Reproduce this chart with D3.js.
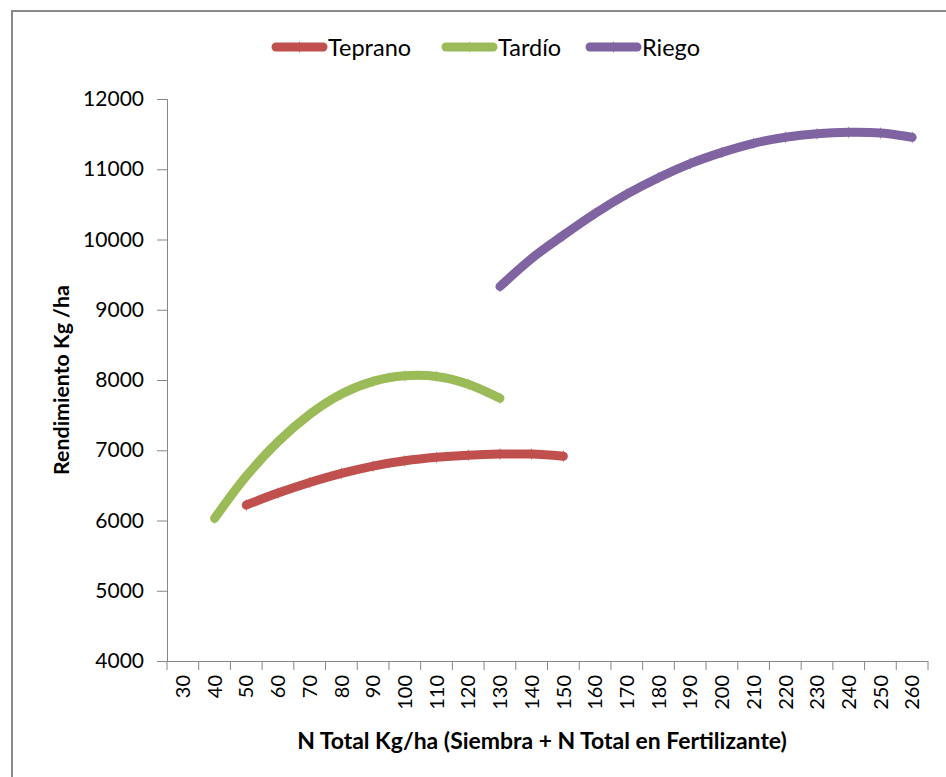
<!DOCTYPE html>
<html>
<head>
<meta charset="utf-8">
<script src="https://cdn.jsdelivr.net/npm/d3@7"></script>
<style>
  html, body { margin: 0; padding: 0; background: #fff; }
  svg { display: block; }
  text { font-family: Lato, "Open Sans", "Liberation Sans", sans-serif; fill: #000; }
</style>
</head>
<body>
<svg id="chart" width="946" height="777"></svg>
<script>
// ---- data ----
const categories = [30,40,50,60,70,80,90,100,110,120,130,140,150,160,170,180,190,200,210,220,230,240,250,260];
const yTicks = [4000,5000,6000,7000,8000,9000,10000,11000,12000];

const tepranoX = [50,60,70,80,90,100,110,120,130,140,150];
const tepranoY = [6220,6390,6540,6670,6775,6850,6900,6930,6945,6945,6915];

const tardioX = [40,50,60,70,80,90,100,110,120,130];
const tardioY = [6030,6630,7120,7510,7800,7980,8060,8050,7940,7740];

const riegoX = [130,140,150,160,170,180,190,200,210,220,230,240,250,260];
const riegoY = [9330,9730,10060,10370,10645,10880,11080,11240,11370,11455,11505,11525,11515,11455];

const seriesNames = ["Teprano","Tardío","Riego"];
const seriesColors = ["#C0504D","#9BBB59","#8064A2"];

const series = [
  {name: seriesNames[0], color: seriesColors[0], pts: tepranoX.map((x,i)=>({x, y: tepranoY[i]}))},
  {name: seriesNames[1], color: seriesColors[1], pts: tardioX.map((x,i)=>({x, y: tardioY[i]}))},
  {name: seriesNames[2], color: seriesColors[2], pts: riegoX.map((x,i)=>({x, y: riegoY[i]}))}
];

// ---- layout ----
const svg = d3.select("#chart");
const plot = {left: 167, right: 928, top: 99, bottom: 661};

const x = d3.scaleBand().domain(categories).range([plot.left, plot.right]).paddingInner(0).paddingOuter(0);
const y = d3.scaleLinear().domain([4000,12000]).range([plot.bottom, plot.top]);
const cx = v => x(v) + x.bandwidth()/2;

// outer frame
svg.append("path")
  .attr("d", `M12,777 L12,11 L946,11`)
  .attr("fill","none").attr("stroke","#898989").attr("stroke-width",2);

// fit text helper
function fitText(sel, target) {
  const w = sel.node().getComputedTextLength();
  const fs = parseFloat(sel.attr("font-size"));
  sel.attr("font-size", (fs * target / w).toFixed(2));
}

// y axis
const yAxis = d3.axisLeft(y).tickValues(yTicks).tickSize(10).tickPadding(13).tickFormat(d3.format("d"));
const gy = svg.append("g").attr("transform",`translate(${plot.left},0)`).call(yAxis);
gy.select(".domain").attr("stroke","#868686");
gy.selectAll(".tick line").attr("stroke","#868686");
gy.selectAll(".tick text").attr("font-size",21).attr("fill","#000").style("font-family","Lato, 'Open Sans', sans-serif");

// x axis
const xAxis = d3.axisBottom(x).tickSize(0).tickFormat(d=>d);
const gx = svg.append("g").attr("transform",`translate(0,${plot.bottom})`).call(xAxis);
gx.select(".domain").attr("stroke","#868686").attr("d", `M${plot.left-8},0.5H${plot.right}`);
// boundary ticks
gx.selectAll(".bt").data(d3.range(categories.length+1)).enter().append("line")
  .attr("class","bt")
  .attr("x1", i => plot.left + i*x.bandwidth()).attr("x2", i => plot.left + i*x.bandwidth())
  .attr("y1", 0).attr("y2", 9).attr("stroke","#868686");
gx.selectAll(".tick text")
  .attr("font-size",20).attr("fill","#000")
  .attr("transform","rotate(-90)")
  .attr("text-anchor","end")
  .attr("x",-14).attr("y",0).attr("dy","0.36em");

// axis titles
const yt = svg.append("text")
  .attr("transform",`translate(69,${(plot.top+plot.bottom)/2}) rotate(-90)`)
  .attr("text-anchor","middle").attr("font-weight","bold").attr("font-size",20)
  .text("Rendimiento Kg /ha");
fitText(yt, 190);

const xt = svg.append("text")
  .attr("x", 542).attr("y", 749)
  .attr("text-anchor","middle").attr("font-weight","bold").attr("font-size",20)
  .text("N Total Kg/ha (Siembra + N Total en Fertilizante)");
fitText(xt, 490);

// lines
const line = d3.line().x(d=>cx(d.x)).y(d=>y(d.y)).curve(d3.curveCardinal.tension(0));
const diamond = d3.symbol().type(d3.symbolDiamond).size(30);

series.forEach(s => {
  svg.append("path").datum(s.pts)
    .attr("d", line).attr("fill","none")
    .attr("stroke", s.color).attr("stroke-width", 9)
    .attr("stroke-linecap","round").attr("stroke-linejoin","round");
  svg.selectAll(null).data(s.pts).enter().append("path")
    .attr("d", diamond)
    .attr("transform", d => `translate(${cx(d.x)},${y(d.y)}) scale(0.6,1.2)`)
    .attr("fill", s.color);
});

// legend
const legendItems = [
  {x1: 276, x2: 323, tx: 328},
  {x1: 446, x2: 493, tx: 498},
  {x1: 590, x2: 637, tx: 642}
];
series.forEach((s,i) => {
  const L = legendItems[i];
  const g = svg.append("g");
  g.append("line").attr("x1",L.x1).attr("x2",L.x2).attr("y1",47).attr("y2",47)
    .attr("stroke",s.color).attr("stroke-width",9).attr("stroke-linecap","round");
  g.append("path").attr("d", diamond)
    .attr("transform",`translate(${(L.x1+L.x2)/2},47) scale(0.6,1.2)`).attr("fill",s.color);
  g.append("text").attr("x",L.tx).attr("y",48).attr("dy","0.36em")
    .attr("font-size",23.5).attr("fill","#1a1a1a").text(s.name);
});
</script>
</body>
</html>
